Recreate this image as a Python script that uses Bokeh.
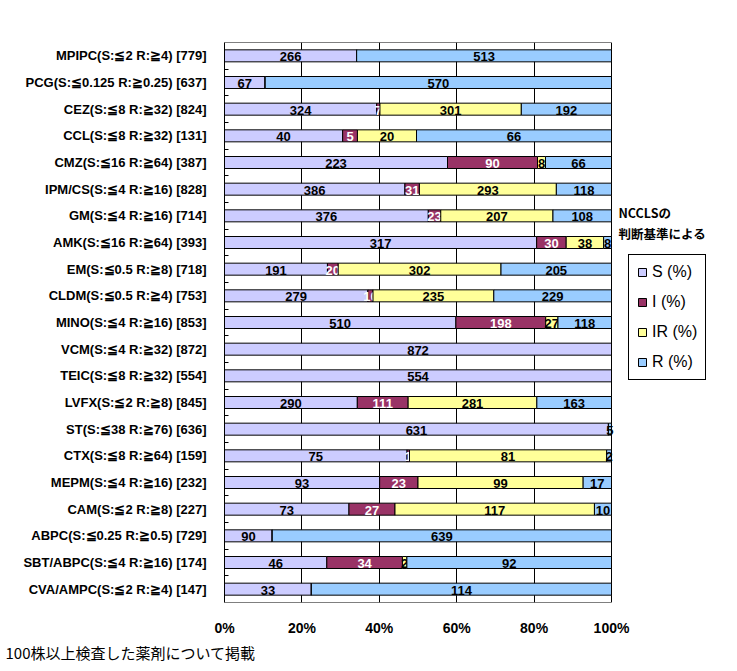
from bokeh.plotting import figure
from bokeh.models import (ColumnDataSource, FixedTicker, Range1d, Legend, LegendItem,
                          Label, Title, CustomJSTickFormatter)
from bokeh.core.properties import value
from bokeh.embed import file_html
from bokeh.resources import INLINE

drugs = [
    "MPIPC(S:≦2 R:≧4) [779]",
    "PCG(S:≦0.125 R:≧0.25) [637]",
    "CEZ(S:≦8 R:≧32) [824]",
    "CCL(S:≦8 R:≧32) [131]",
    "CMZ(S:≦16 R:≧64) [387]",
    "IPM/CS(S:≦4 R:≧16) [828]",
    "GM(S:≦4 R:≧16) [714]",
    "AMK(S:≦16 R:≧64) [393]",
    "EM(S:≦0.5 R:≧8) [718]",
    "CLDM(S:≦0.5 R:≧4) [753]",
    "MINO(S:≦4 R:≧16) [853]",
    "VCM(S:≦4 R:≧32) [872]",
    "TEIC(S:≦8 R:≧32) [554]",
    "LVFX(S:≦2 R:≧8) [845]",
    "ST(S:≦38 R:≧76) [636]",
    "CTX(S:≦8 R:≧64) [159]",
    "MEPM(S:≦4 R:≧16) [232]",
    "CAM(S:≦2 R:≧8) [227]",
    "ABPC(S:≦0.25 R:≧0.5) [729]",
    "SBT/ABPC(S:≦4 R:≧16) [174]",
    "CVA/AMPC(S:≦2 R:≧4) [147]",
]
S_counts = [266, 67, 324, 40, 223, 386, 376, 317, 191, 279, 510, 872, 554, 290, 631, 75, 93, 73, 90, 46, 33]
I_counts = [0, 0, 7, 5, 90, 31, 23, 30, 20, 10, 198, 0, 0, 111, 0, 1, 23, 27, 0, 34, 0]
IR_counts = [0, 0, 301, 20, 8, 293, 207, 38, 302, 235, 27, 0, 0, 281, 0, 81, 99, 117, 0, 2, 0]
R_counts = [513, 570, 192, 66, 66, 118, 108, 8, 205, 229, 118, 0, 0, 163, 5, 2, 17, 10, 639, 92, 114]

series_names = ["S (%)", "I (%)", "IR (%)", "R (%)"]
series_colors = ["#CCCCFF", "#993366", "#FFFF99", "#99CCFF"]
label_colors = ["black", "white", "black", "black"]
x_ticks = [0, 0.2, 0.4, 0.6, 0.8, 1.0]
footnote = "100株以上検査した薬剤について掲載"
side_note = ["NCCLSの", "判断基準による"]

n = len(drugs)
ys = [n - 1 - i for i in range(n)]
totals = [s + a + b + r for s, a, b, r in zip(S_counts, I_counts, IR_counts, R_counts)]
series = [S_counts, I_counts, IR_counts, R_counts]

FONT = "Liberation Sans"

# layout (pixels)
W, H = 730, 663
LEFT, TOP, BOTTOM = 224, 42, 61
BOX_W = 387                      # width of the 0..100% plot box
x_end = (W - LEFT) / BOX_W       # frame extends to the right to hold legend and note

p = figure(width=W, height=H, output_backend="svg", toolbar_location=None,
           x_range=Range1d(0, x_end), y_range=Range1d(-0.5, n - 0.5),
           min_border_left=LEFT, min_border_top=TOP, min_border_right=0, min_border_bottom=BOTTOM)
p.outline_line_color = None
p.background_fill_color = "white"
p.border_fill_color = "white"

# plot box border
p.quad(left=[x_ticks[0]], right=[x_ticks[-1]], bottom=[-0.5], top=[n - 0.5],
       fill_color=None, line_color="black", line_width=1)

cum = [0.0] * n
renderers = []
for k, (vals, color, lcol) in enumerate(zip(series, series_colors, label_colors)):
    left = [c / t for c, t in zip(cum, totals)]
    right = [(c + v) / t for c, v, t in zip(cum, vals, totals)]
    src = ColumnDataSource(dict(y=ys, left=left, right=right))
    r = p.hbar(y="y", left="left", right="right", height=0.45, source=src,
               fill_color=color, line_color="black", line_width=1)
    renderers.append(r)
    lx, ly, lt = [], [], []
    for i in range(n):
        if vals[i] > 0:
            lx.append((left[i] + right[i]) / 2)
            ly.append(ys[i])
            lt.append(str(vals[i]))
    tsrc = ColumnDataSource(dict(x=lx, y=ly, t=lt))
    p.text(x="x", y="y", text="t", source=tsrc, text_align="center", text_baseline="middle",
           text_color=lcol, text_font=value(FONT), text_font_style="bold",
           text_font_size="13px", y_offset=1)
    cum = [c + v for c, v in zip(cum, vals)]

# grid
p.xgrid.ticker = FixedTicker(ticks=x_ticks[1:-1])
p.xgrid.grid_line_color = "black"
p.xgrid.grid_line_width = 1
p.ygrid.grid_line_color = None

# x axis
p.xaxis.ticker = FixedTicker(ticks=x_ticks)
p.xaxis.formatter = CustomJSTickFormatter(code="return Math.round(tick*100) + '%';")
p.xaxis.major_tick_line_color = None
p.xaxis.minor_tick_line_color = None
p.xaxis.axis_line_color = None
p.xaxis.major_label_standoff = 11
p.xaxis.major_label_text_font = FONT
p.xaxis.major_label_text_font_style = "bold"
p.xaxis.major_label_text_font_size = "14px"
p.xaxis.major_label_text_color = "black"

# y axis
p.yaxis.ticker = FixedTicker(ticks=ys, minor_ticks=[i + 0.5 for i in range(n - 1)])
p.yaxis.major_label_overrides = {y: d for y, d in zip(ys, drugs)}
p.yaxis.major_tick_line_color = None
p.yaxis.minor_tick_in = 4
p.yaxis.minor_tick_out = 0
p.yaxis.minor_tick_line_color = "black"
p.yaxis.axis_line_color = "black"
p.yaxis.major_label_standoff = 12
p.yaxis.major_label_text_font = FONT
p.yaxis.major_label_text_font_style = "bold"
p.yaxis.major_label_text_font_size = "13px"
p.yaxis.major_label_text_color = "black"

legend = Legend(items=[LegendItem(label=nm, renderers=[r]) for nm, r in zip(series_names, renderers)],
                location=(404, 222), border_line_color="black", border_line_width=1,
                border_line_alpha=1.0,
                background_fill_alpha=1, padding=8, spacing=12, glyph_width=10, glyph_height=10,
                label_height=18, label_standoff=5, label_text_font_size="16px",
                label_text_font=FONT, label_text_color="black", margin=0)
p.add_layout(legend, "center")

for j, txt in enumerate(side_note):
    p.add_layout(Label(x=394, y=390 - j * 21, x_units="screen", y_units="screen", text=txt,
                       text_font="Noto Sans CJK JP", text_font_style="bold",
                       text_font_size="12.5px", text_baseline="middle", text_color="black"))

p.add_layout(Title(text=footnote, align="left", offset=-219, text_font="Noto Sans CJK JP",
                   text_font_size="15px", text_font_style="normal", text_color="black",
                   standoff=2), "below")

open("out.html", "w").write(file_html(p, INLINE))
